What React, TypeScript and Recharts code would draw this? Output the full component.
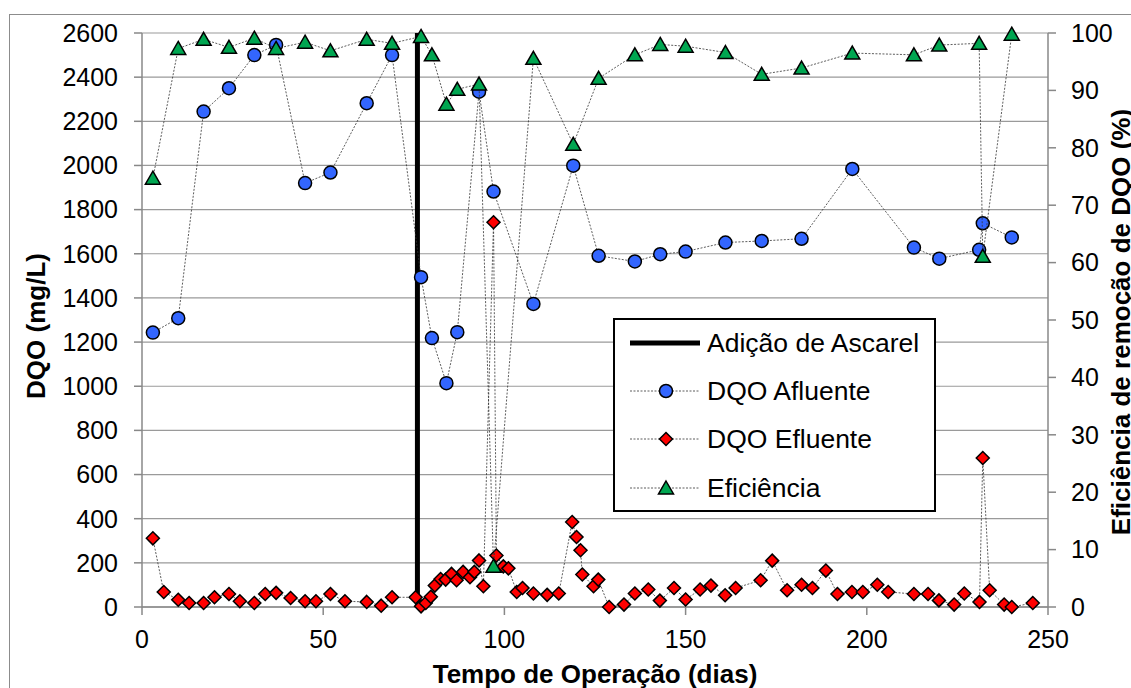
import { ComposedChart, Scatter, XAxis, YAxis, CartesianGrid, Legend } from 'recharts';

const FONT = '"Liberation Sans", Arial, sans-serif';

// DQO afluente (mg/L)
const afluenteDias = [3, 10, 17, 24, 31, 37, 45, 52, 62, 69, 77, 80, 84, 87, 93, 97, 108, 119, 126, 136, 143, 150, 161, 171, 182, 196, 213, 220, 231, 232, 240];
const afluenteDQO = [1243, 1308, 2244, 2350, 2500, 2546, 1920, 1968, 2282, 2500, 1494, 1218, 1014, 1245, 2334, 1882, 1373, 1999, 1591, 1565, 1598, 1610, 1651, 1658, 1668, 1984, 1628, 1578, 1618, 1738, 1674];

// DQO efluente (mg/L)
const efluenteDias = [3, 6, 10, 13, 17, 20, 24, 27, 31, 34, 37, 41, 45, 48, 52, 56, 62, 66, 69, 75.5, 77, 78.3, 79.7, 80.8, 82.4, 83.8, 85.4, 86.8, 88.6, 90.5, 91.7, 93, 94.2, 97, 97.8, 99.7, 101.1, 103.4, 105, 108, 111.8, 115, 118.7, 119.9, 121, 121.5, 124.6, 125.9, 128.9, 133, 136, 139.7, 142.9, 146.8, 150, 154, 157, 160.9, 163.8, 170.7, 173.9, 178, 182, 185, 188.7, 191.9, 195.9, 198.9, 202.9, 205.9, 213, 216.9, 219.9, 224.1, 226.9, 231.1, 232, 233.9, 237.9, 240, 245.8];
const efluenteDQO = [311, 68, 33, 18, 18, 44, 59, 26, 18, 59, 64, 41, 26, 26, 59, 26, 23, 6, 44, 44, 3, 18, 46, 97, 127, 124, 150, 121, 159, 135, 159, 211, 94, 1743, 233, 184, 175, 68, 86, 61, 55, 61, 385, 317, 257, 147, 94, 124, 0, 11, 61, 79, 29, 86, 34, 79, 97, 53, 86, 121, 210, 76, 101, 86, 165, 59, 68, 68, 101, 68, 59, 59, 30, 11, 61, 23, 675, 76, 11, 0, 18];

// eficiência de remoção (%)
const eficienciaDias = [3, 10, 17, 24, 31, 37, 45, 52, 62, 69, 77, 80, 84, 87, 93, 97, 108, 119, 126, 136, 143, 150, 161, 171, 182, 196, 213, 220, 231, 232, 240];
const eficienciaPct = [74.7, 97.3, 98.9, 97.5, 99.1, 97.3, 98.4, 96.9, 98.9, 98.2, 99.4, 96.2, 87.6, 90.2, 91.1, 7.1, 95.6, 80.6, 92.1, 96.2, 98.0, 97.7, 96.6, 92.8, 93.9, 96.5, 96.2, 97.9, 98.2, 61.1, 99.8];

// dia da adição de ascarel
const ascarelDia = 76;
const ascarelFaixa = [0, 2600];

const xTicks = [0, 50, 100, 150, 200, 250];
const leftTicks = [0, 200, 400, 600, 800, 1000, 1200, 1400, 1600, 1800, 2000, 2200, 2400, 2600];
const rightTicks = [0, 10, 20, 30, 40, 50, 60, 70, 80, 90, 100];

const zip = (xs: number[], ys: number[]) => xs.map((x, i) => ({ x, y: ys[i] }));

const afluente = zip(afluenteDias, afluenteDQO);
const efluente = zip(efluenteDias, efluenteDQO);
const eficiencia = zip(eficienciaDias, eficienciaPct);
const ascarel = ascarelFaixa.map((y) => ({ x: ascarelDia, y }));

const BLUE = '#3366ff';
const RED = '#ff0000';
const GREEN = '#00a651';
const seriesLine = { stroke: '#333', strokeWidth: 0.8, strokeDasharray: '2 1.5' };

const CircleMark = (p: any) => (
  <circle cx={p.cx} cy={p.cy} r={6.5} fill={BLUE} stroke="#000" strokeWidth={1.5} />
);
const DiamondMark = (p: any) => (
  <polygon
    points={`${p.cx},${p.cy - 6.5} ${p.cx + 6.5},${p.cy} ${p.cx},${p.cy + 6.5} ${p.cx - 6.5},${p.cy}`}
    fill={RED}
    stroke="#000"
    strokeWidth={1.5}
  />
);
const TriangleMark = (p: any) => (
  <polygon
    points={`${p.cx},${p.cy - 7} ${p.cx + 7.5},${p.cy + 6} ${p.cx - 7.5},${p.cy + 6}`}
    fill={GREEN}
    stroke="#000"
    strokeWidth={1.5}
  />
);
const NoMark = () => <g />;

const legendRows = [
  { name: 'Adição de Ascarel', mark: null as any },
  { name: 'DQO Afluente', mark: CircleMark },
  { name: 'DQO Efluente', mark: DiamondMark },
  { name: 'Eficiência', mark: TriangleMark },
];

const renderLegend = () => (
  <div style={{ width: 323, height: 194, boxSizing: 'border-box', border: '2px solid #000', background: '#fff' }}>
    <svg width={319} height={190} style={{ display: 'block' }}>
      {legendRows.map((row, i) => {
        const cy = [23, 71, 119, 168][i];
        const Mark = row.mark;
        return (
          <g key={row.name}>
            {Mark ? (
              <>
                <line x1={15} x2={85} y1={cy} y2={cy} {...seriesLine} />
                <Mark cx={51} cy={cy} />
              </>
            ) : (
              <line x1={15} x2={85} y1={cy} y2={cy} stroke="#000" strokeWidth={5} />
            )}
            <text x={92} y={cy} dominantBaseline="central" fontSize={26.5} fontFamily={FONT} fill="#000">
              {row.name}
            </text>
          </g>
        );
      })}
    </svg>
  </div>
);

const titleStyle = { fontSize: 26, fontWeight: 700, fontFamily: FONT, fill: '#000' };

// axis titles sit at fixed spots in the 1131x688 frame
const XTitle = () => (
  <text x={595} y={683} textAnchor="middle" {...titleStyle}>
    Tempo de Operação (dias)
  </text>
);

const LeftTitle = () => (
  <text x={45} y={326} textAnchor="middle" transform="rotate(-90 45 326)" {...titleStyle}>
    DQO (mg/L)
  </text>
);

const RightTitle = () => (
  <text x={1130} y={322} textAnchor="middle" transform="rotate(-90 1130 322)" {...titleStyle}>
    Eficiência de remoção de DQO (%)
  </text>
);

const tickStyle = { fill: '#000', fontSize: 25, fontFamily: FONT };

export default function App() {
  return (
    <div style={{ position: 'absolute', left: 0, top: 0, width: 1131, height: 688, overflow: 'hidden', background: '#fff' }}>
      <div
        style={{
          position: 'absolute',
          left: 9,
          top: 14,
          width: 1200,
          height: 800,
          border: '1.5px solid #8c8c8c',
        }}
      />
      <ComposedChart width={1131} height={688} margin={{ top: 33, right: 0, bottom: 0, left: 0 }}>
        <CartesianGrid vertical={false} stroke="#9a9a9a" strokeWidth={1.2} />
        <XAxis
          type="number"
          dataKey="x"
          domain={[0, 250]}
          ticks={xTicks}
          height={81}
          tickSize={8}
          tickMargin={15}
          stroke="#888"
          strokeWidth={1.5}
          tick={tickStyle}
          label={{ content: XTitle }}
        />
        <YAxis
          type="number"
          dataKey="y"
          domain={[0, 2600]}
          ticks={leftTicks}
          width={142}
          tickSize={8}
          tickMargin={16}
          stroke="#888"
          strokeWidth={1.5}
          tick={tickStyle}
          interval={0}
          label={{ content: LeftTitle }}
        />
        <YAxis
          yAxisId="right"
          orientation="right"
          type="number"
          dataKey="y"
          domain={[0, 100]}
          ticks={rightTicks}
          width={83}
          tickSize={8}
          tickMargin={15}
          stroke="#888"
          strokeWidth={1.5}
          tick={tickStyle}
          interval={0}
          label={{ content: RightTitle }}
        />
        <Scatter
          name="Adição de Ascarel"
          data={ascarel}
          line={{ stroke: '#000', strokeWidth: 5 }}
          shape={NoMark}
          isAnimationActive={false}
        />
        <Scatter name="DQO Afluente" data={afluente} line={seriesLine} shape={CircleMark} isAnimationActive={false} />
        <Scatter name="DQO Efluente" data={efluente} line={seriesLine} shape={DiamondMark} isAnimationActive={false} />
        <Scatter
          name="Eficiência"
          yAxisId="right"
          data={eficiencia}
          line={seriesLine}
          shape={TriangleMark}
          isAnimationActive={false}
        />
        <Legend
          layout="vertical"
          align="center"
          verticalAlign="middle"
          content={renderLegend}
          wrapperStyle={{ left: 613, top: 318, width: 323, height: 194 }}
        />
      </ComposedChart>
    </div>
  );
}
